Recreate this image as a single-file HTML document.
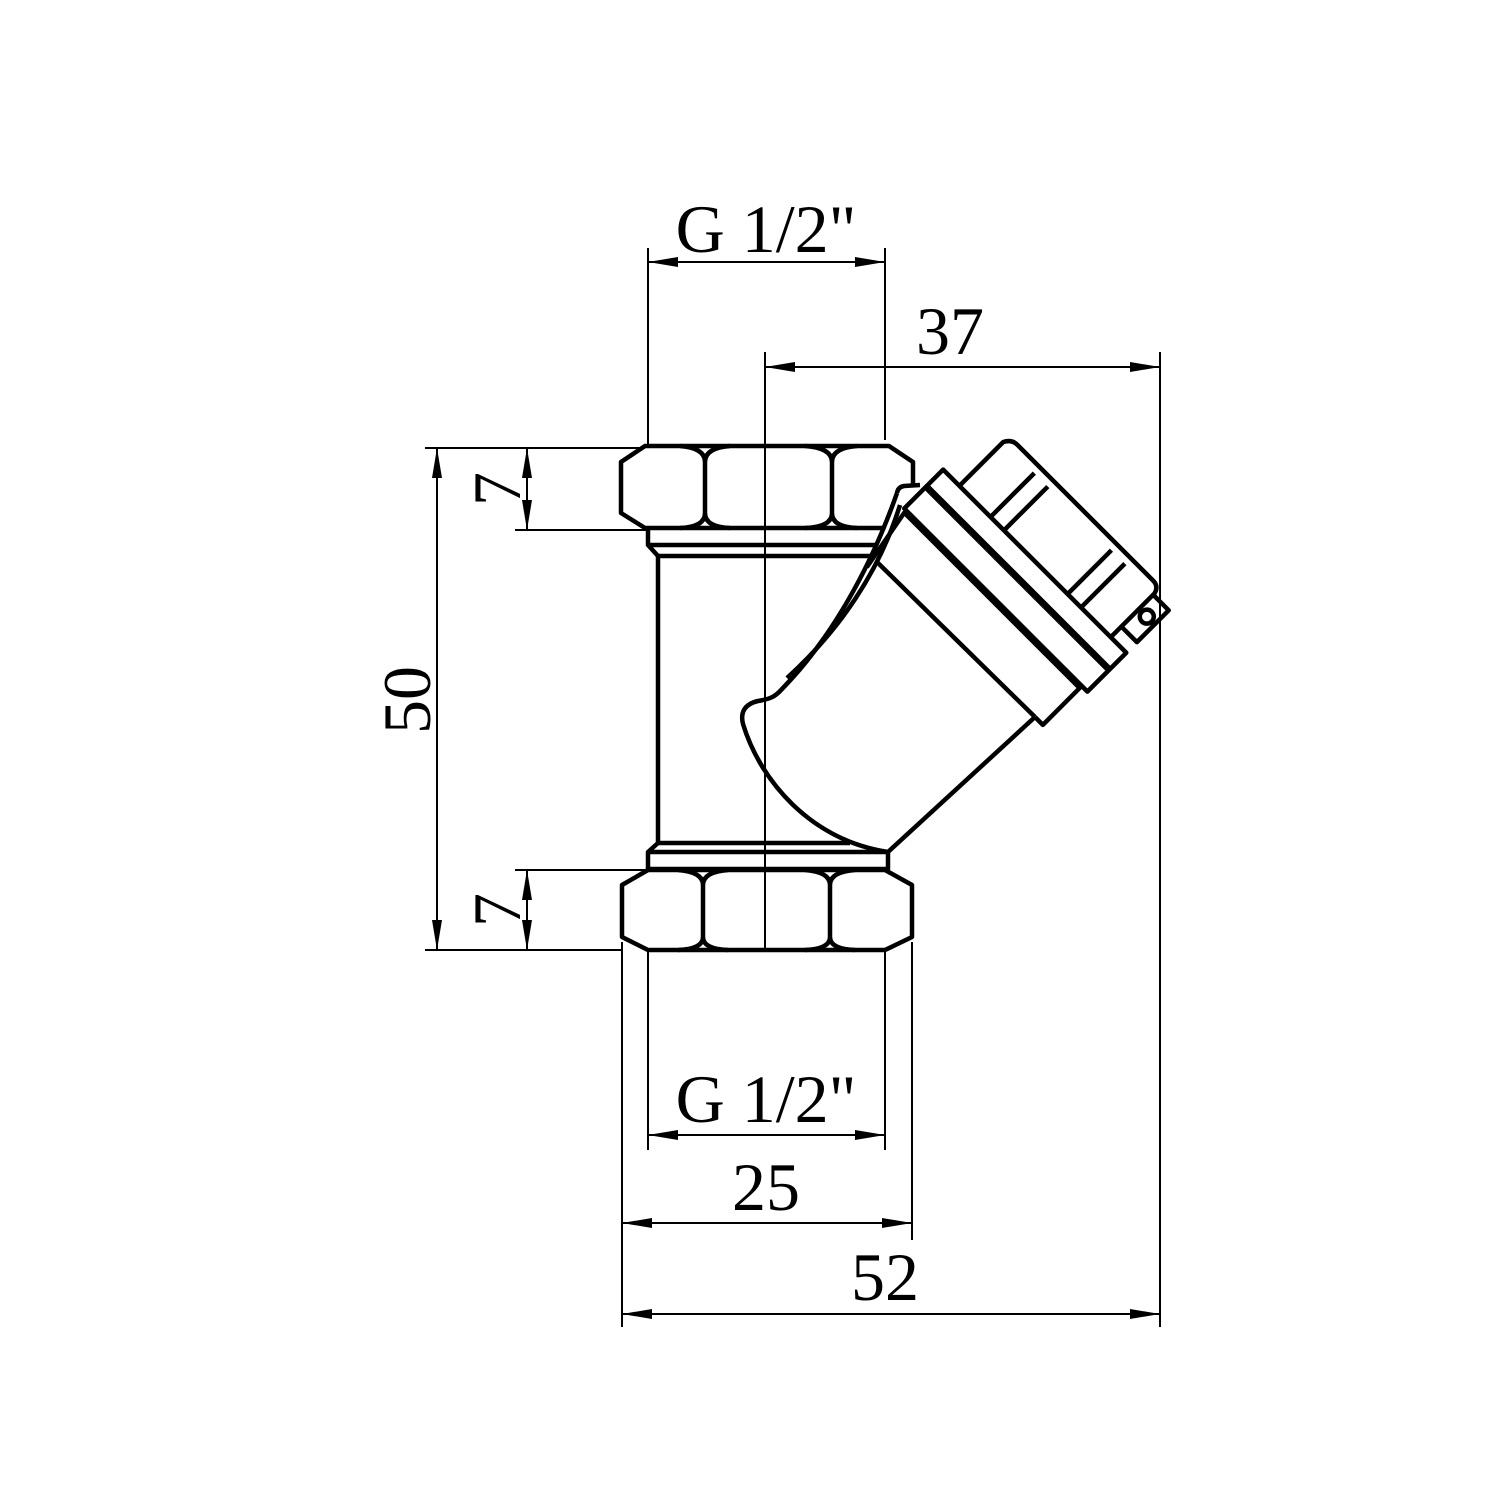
<!DOCTYPE html>
<html><head><meta charset="utf-8"><style>
html,body{margin:0;padding:0;background:#fff}
svg{display:block}
text{font-family:"Liberation Serif",serif;font-size:68px;fill:#000}
</style></head><body>
<svg width="1500" height="1500" viewBox="0 0 1500 1500" xmlns="http://www.w3.org/2000/svg">
<defs>
<marker id="a" markerWidth="30" markerHeight="10" refX="30" refY="5" orient="auto-start-reverse" markerUnits="userSpaceOnUse">
<path d="M0,0 L30,5 L0,10 Z" fill="#000"/>
</marker>
</defs>
<g stroke="#000" stroke-width="2" fill="none">
<line x1="765" y1="352" x2="765" y2="950"/>
<line x1="648" y1="248" x2="648" y2="445"/>
<line x1="885" y1="248" x2="885" y2="440"/>
<line x1="648" y1="262" x2="885" y2="262" marker-start="url(#a)" marker-end="url(#a)"/>
<line x1="1160" y1="352" x2="1160" y2="1327"/>
<line x1="765" y1="367" x2="1160" y2="367" marker-start="url(#a)" marker-end="url(#a)"/>
<line x1="425" y1="448" x2="645" y2="448"/>
<line x1="515" y1="530" x2="648" y2="530"/>
<line x1="515" y1="870" x2="648" y2="870"/>
<line x1="425" y1="950" x2="622" y2="950"/>
<line x1="527" y1="448" x2="527" y2="530" marker-start="url(#a)" marker-end="url(#a)"/>
<line x1="437" y1="448" x2="437" y2="950" marker-start="url(#a)" marker-end="url(#a)"/>
<line x1="527" y1="870" x2="527" y2="950" marker-start="url(#a)" marker-end="url(#a)"/>
<line x1="648" y1="952" x2="648" y2="1150"/>
<line x1="885" y1="952" x2="885" y2="1150"/>
<line x1="648" y1="1135" x2="885" y2="1135" marker-start="url(#a)" marker-end="url(#a)"/>
<line x1="622" y1="942" x2="622" y2="1327"/>
<line x1="912" y1="942" x2="912" y2="1240"/>
<line x1="622" y1="1223" x2="912" y2="1223" marker-start="url(#a)" marker-end="url(#a)"/>
<line x1="622" y1="1314" x2="1160" y2="1314" marker-start="url(#a)" marker-end="url(#a)"/>
</g>

<g stroke="#000" stroke-width="4.5" fill="none" stroke-linejoin="round">
<path d="M913,485 L913,462 L889,446 L645,446 L621,462 L621,513 L645,528 L885,528"/>
<path d="M680,446 Q705,448 705,462 L705,513 Q705,527 680,528 M730,446 Q705,448 705,462 M730,528 Q705,527 705,513"/>
<path d="M805,446 Q832,448 832,462 L832,513 Q832,527 805,528 M857,446 Q832,448 832,462 M857,528 Q832,527 832,513"/>
<path d="M648,528 L648,545 L877,545 M648,545 L658,556 L870,556"/>
<line x1="658" y1="556" x2="658" y2="843"/>
<path d="M658,843 L648,852 L648,869 L888,869 L888,852 L648,852 M658,843 L850,843"/>
<path d="M648,870 L622,885 L622,937 L648,950 L885,950 L912,937 L912,885 L885,870 Z"/>
<path d="M678,870 Q703,872 703,885 L703,937 Q703,949 678,950 M728,870 Q703,872 703,885 M728,950 Q703,949 703,937"/>
<path d="M805,870 Q830,872 830,885 L830,937 Q830,949 805,950 M855,870 Q830,872 830,885 M855,950 Q830,949 830,937"/>
<path d="M888,852 L1035,717"/>
<path d="M897,493 Q898,487 904,486 L920,485"/>
<path d="M897,493 C870,570 830,640 782,689 C775,697 770,699 758,701 C745,704 740,712 743,724 C760,780 810,840 888,852"/>
<path d="M900,505 C880,570 840,630 787,678"/>
<line x1="877" y1="562" x2="1035" y2="717"/>
<g transform="translate(958,640) rotate(-45)">
<path d="M-13,-116 L52,-128 L52,120 L0,120 L0,109"/>
<rect x="55" y="-131" width="55" height="259"/>
<line x1="86" y1="-131" x2="86" y2="128" stroke-width="7"/>
<path d="M110,-108 L172,-108 Q180,-104 180,-96 L180,96 Q180,104 172,106 L110,106"/>
<line x1="112" y1="-64" x2="172" y2="-64"/>
<line x1="112" y1="-45" x2="172" y2="-45"/>
<line x1="112" y1="45" x2="172" y2="45"/>
<line x1="112" y1="64" x2="172" y2="64"/>
<path d="M125,106 L125,128 L170,128 L170,106"/>
<circle cx="150" cy="117" r="7"/>
</g>
</g>

<text x="766" y="252" text-anchor="middle">G 1/2"</text>
<text x="950" y="354" text-anchor="middle">37</text>
<text x="766" y="1122" text-anchor="middle">G 1/2"</text>
<text x="766" y="1210" text-anchor="middle">25</text>
<text x="885" y="1300" text-anchor="middle">52</text>
<text transform="translate(520,489) rotate(-90)" text-anchor="middle">7</text>
<text transform="translate(520,910) rotate(-90)" text-anchor="middle">7</text>
<text transform="translate(430,700) rotate(-90)" text-anchor="middle">50</text>
</svg>
</body></html>
